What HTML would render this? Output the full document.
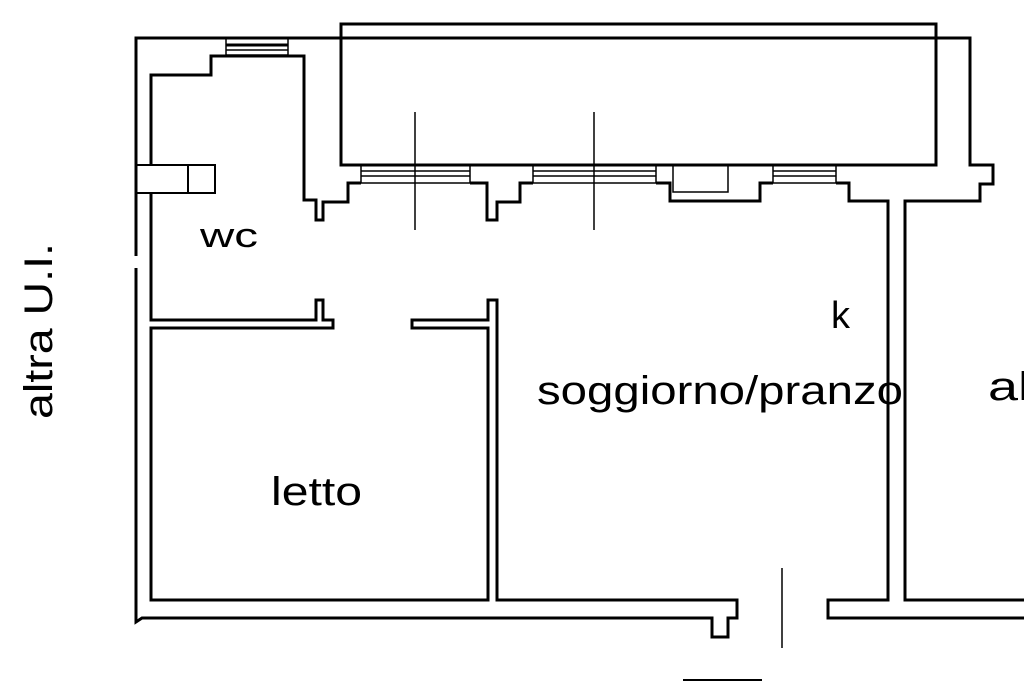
<!DOCTYPE html>
<html><head><meta charset="utf-8"><style>
html,body{margin:0;padding:0;background:#fff;}
svg{display:block}
text{font-family:"Liberation Sans",sans-serif;fill:#000}
</style></head><body>
<svg width="1024" height="683" viewBox="0 0 1024 683" xmlns="http://www.w3.org/2000/svg">
<g fill="none" stroke="#000" stroke-width="2">
<polyline points="136,256 136,38 970,38 970,165 993,165 993,184 980,184 980,201 905,201 905,600 1024,600" stroke-width="3"/>
<polyline points="136,268 136,622 142,618 712,618 712,637 728,637 728,618 737,618 737,600 497,600 497,300 488,300 488,320 412,320 412,328 488,328 488,600 151,600 151,328 333,328 333,320 323,320 323,300 316,300 316,320 151,320 151,193" stroke-width="3"/>
<polyline points="151,165 151,75 211,75 211,56 304,56 304,200 316,200 316,220 323,220 323,202 348,202 348,183 361,183" stroke-width="3"/>
<polyline points="470,183 487,183 487,220 497,220 497,202 520,202 520,183 533,183" stroke-width="3"/>
<polyline points="656,183 670,183 670,201 760,201 760,183 773,183" stroke-width="3"/>
<polyline points="836,183 849,183 849,201 888,201 888,600 828,600 828,618 1024,618" stroke-width="3"/>
<rect x="341" y="24" width="595" height="141" stroke-width="3"/>
<rect x="136" y="165" width="79" height="28"/>
<line x1="188" y1="165" x2="188" y2="193"/>
<g stroke-width="1.5">
<rect x="226" y="38" width="62" height="17"/><line x1="226" y1="45" x2="288" y2="45" stroke-width="3"/><line x1="226" y1="50" x2="288" y2="50"/>
<rect x="361" y="165" width="109" height="18"/><line x1="361" y1="171" x2="470" y2="171"/><line x1="361" y1="176" x2="470" y2="176"/>
<rect x="533" y="165" width="123" height="18"/><line x1="533" y1="171" x2="656" y2="171"/><line x1="533" y1="176" x2="656" y2="176"/>
<rect x="673" y="165" width="55" height="27"/>
<rect x="773" y="165" width="63" height="18"/><line x1="773" y1="171" x2="836" y2="171"/><line x1="773" y1="176" x2="836" y2="176"/>
</g>
<line x1="415" y1="112" x2="415" y2="230" stroke-width="1.5"/>
<line x1="594" y1="112" x2="594" y2="230" stroke-width="1.5"/>
<line x1="782" y1="568" x2="782" y2="648" stroke-width="1.5"/>
<line x1="683" y1="680" x2="762" y2="680" stroke-width="2"/>
</g>
<text x="200" y="247" font-size="34" textLength="58" lengthAdjust="spacingAndGlyphs">wc</text>
<text x="831" y="328" font-size="38">k</text>
<text x="537" y="404" font-size="40" textLength="366" lengthAdjust="spacingAndGlyphs">soggiorno/pranzo</text>
<text x="271" y="505" font-size="40" textLength="91" lengthAdjust="spacingAndGlyphs">letto</text>
<text x="988" y="400" font-size="40" textLength="42" lengthAdjust="spacingAndGlyphs">al</text>
<text transform="translate(52,419) rotate(-90)" font-size="40" textLength="176" lengthAdjust="spacingAndGlyphs">altra U.I.</text>
</svg>
</body></html>
